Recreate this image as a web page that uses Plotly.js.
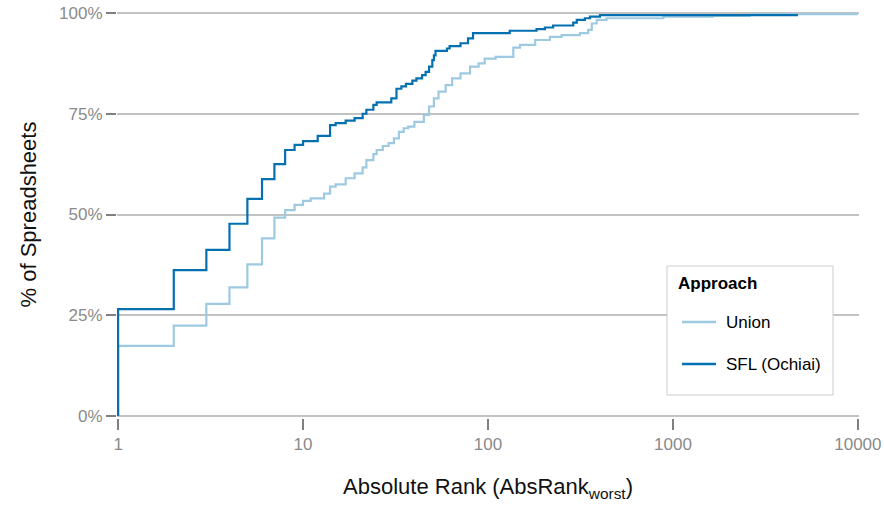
<!DOCTYPE html>
<html>
<head>
<meta charset="utf-8">
<script src="https://cdn.plot.ly/plotly-3.0.1.min.js"></script>
<style>
  html, body { margin: 0; padding: 0; background: #fff; }
  #chart { width: 884px; height: 506px; }
</style>
</head>
<body>
<div id="chart"></div>
<script>
// Cumulative share of spreadsheets whose faulty cell is found within a given absolute rank.
const unionRank = [1, 1, 2, 3, 4, 5, 6, 7, 8, 9, 10, 11, 13, 14, 15, 17, 19, 21, 22, 24, 25, 27, 29, 31, 33, 35, 37, 40, 45, 48, 51, 54, 59, 64, 71, 80, 89, 96, 110, 137, 149, 180, 216, 250, 314, 348, 364, 387, 438, 887, 1645, 2600, 10000];
const unionPct  = [0, 17.4, 22.4, 27.8, 31.9, 37.6, 44.1, 49.2, 51.1, 52.4, 53.4, 54.0, 55.2, 56.9, 57.5, 59.0, 60.2, 61.7, 63.5, 65.0, 66.0, 67.0, 67.7, 68.9, 70.5, 71.4, 71.8, 73.0, 74.7, 76.8, 78.8, 80.5, 82.1, 83.8, 85.0, 86.7, 87.5, 88.7, 89.1, 91.4, 92.1, 93.3, 94.1, 94.5, 95.0, 95.8, 97.4, 98.3, 98.7, 99.1, 99.3, 99.7, 99.7];

const sflRank = [1, 1, 2, 3, 4, 5, 6, 7, 8, 9, 10, 12, 14, 15, 17, 19, 21, 22, 24, 25, 30, 32, 34, 36, 39, 41, 44, 46, 48, 50, 51, 52, 60, 62, 71, 78, 83, 131, 183, 203, 225, 289, 302, 334, 356, 403, 4740];
const sflPct  = [0, 26.5, 36.2, 41.2, 47.7, 53.9, 58.8, 62.5, 66.0, 67.3, 68.2, 69.5, 72.2, 72.7, 73.3, 73.9, 75.0, 76.0, 77.2, 77.8, 78.8, 81.2, 81.8, 82.4, 83.2, 83.8, 84.6, 85.4, 86.7, 88.3, 89.5, 90.6, 91.2, 91.8, 92.5, 93.7, 95.0, 95.6, 96.0, 96.4, 96.9, 97.6, 98.3, 98.7, 99.1, 99.5, 99.5];

const seriesNames = ["Union", "SFL (Ochiai)"];
const seriesColors = ["#9ecae1", "#0570b0"];
const legendTitle = "Approach";
const xTickVals = [1, 10, 100, 1000, 10000];
const xTickText = ["1", "10", "100", "1000", "10000"];
const yTickVals = [0, 25, 50, 75, 100];
const yTickText = ["0%", "25%", "50%", "75%", "100%"];

const FONT = "Liberation Sans, Arial, Helvetica, sans-serif";
const W = 884, H = 506;
const M = { l: 117, r: 25, t: 11, b: 88 };

// pixel position on the page -> paper coordinates of the plot area
const px = v => (v - M.l) / (W - M.l - M.r);
const py = v => (H - M.b - v) / (H - M.t - M.b);

const traces = [
  {
    x: unionRank, y: unionPct, name: seriesNames[0],
    type: "scatter", mode: "lines", showlegend: false,
    line: { shape: "hv", color: seriesColors[0], width: 2.2 }
  },
  {
    x: sflRank, y: sflPct, name: seriesNames[1],
    type: "scatter", mode: "lines", showlegend: false,
    line: { shape: "hv", color: seriesColors[1], width: 2.2 }
  }
];

// Legend box, drawn by hand so its spacing can be set freely
const box = { x0: 667, x1: 833, y0: 266, y1: 395 };
const rowY = [322, 364];
const shapes = [
  {
    type: "rect", xref: "paper", yref: "paper", layer: "above",
    x0: px(box.x0), x1: px(box.x1), y0: py(box.y1), y1: py(box.y0),
    fillcolor: "#ffffff", line: { color: "#cccccc", width: 1 }
  }
];
const annotations = [
  {
    xref: "paper", yref: "paper", x: px(676), y: py(283),
    xanchor: "left", yanchor: "middle", showarrow: false,
    text: "<b>" + legendTitle + "</b>", font: { family: FONT, size: 17, color: "#000" }
  }
];
seriesNames.forEach((name, i) => {
  shapes.push({
    type: "line", xref: "paper", yref: "paper", layer: "above",
    x0: px(682), x1: px(716), y0: py(rowY[i]), y1: py(rowY[i]),
    line: { color: seriesColors[i], width: 2.4 }
  });
  annotations.push({
    xref: "paper", yref: "paper", x: px(724), y: py(rowY[i]),
    xanchor: "left", yanchor: "middle", showarrow: false,
    text: name, font: { family: FONT, size: 17, color: "#000" }
  });
});

const layout = {
  width: W, height: H,
  margin: M,
  paper_bgcolor: "#ffffff", plot_bgcolor: "#ffffff",
  font: { family: FONT, size: 17, color: "#000" },
  showlegend: false,
  xaxis: {
    type: "log", range: [-0.006, 4.006],
    tickmode: "array", tickvals: xTickVals, ticktext: xTickText,
    ticks: "outside", ticklen: 11, tickwidth: 2, tickcolor: "#808080",
    showgrid: false, zeroline: false, showline: false,
    tickfont: { family: FONT, size: 17, color: "#8a8a8a" },
    title: { text: "Absolute Rank (AbsRank<sub>worst</sub>)", font: { family: FONT, size: 22, color: "#111" }, standoff: 25 },
    automargin: false
  },
  yaxis: {
    range: [-0.5, 100.5],
    tickmode: "array", tickvals: yTickVals, ticktext: yTickText,
    ticks: "outside", ticklen: 10, tickwidth: 2, tickcolor: "#808080",
    showgrid: true, gridcolor: "#c2c2c2", gridwidth: 2,
    zeroline: false, showline: false,
    tickfont: { family: FONT, size: 17, color: "#8a8a8a" },
    title: { text: "% of Spreadsheets", font: { family: FONT, size: 22, color: "#111" }, standoff: 16 },
    automargin: false
  },
  shapes: shapes,
  annotations: annotations
};

Plotly.newPlot("chart", traces, layout, { staticPlot: true, displayModeBar: false });
</script>
</body>
</html>
